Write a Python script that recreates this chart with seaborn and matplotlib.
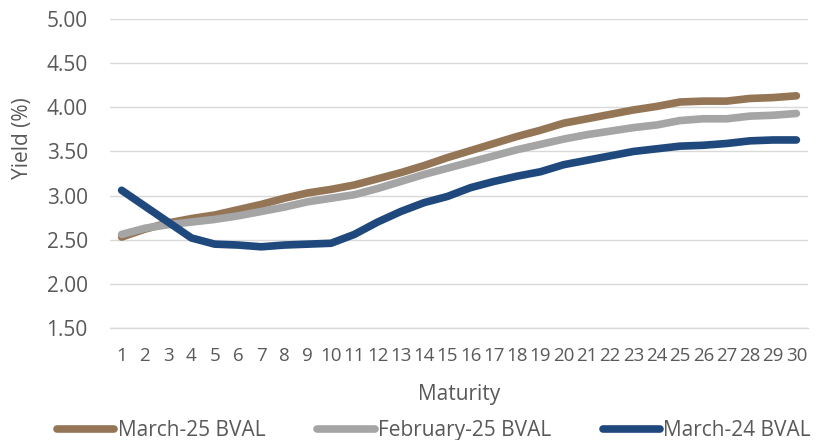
import numpy as np
import pandas as pd
import matplotlib
matplotlib.use("Agg")
import matplotlib.pyplot as plt
import seaborn as sns

# Maturity buckets (years) and yields (%)
maturity = list(range(1, 31))

march_25 = [2.53, 2.62, 2.69, 2.74, 2.78, 2.84, 2.90, 2.97, 3.03, 3.07,
            3.12, 3.19, 3.26, 3.34, 3.43, 3.51, 3.59, 3.67, 3.74, 3.82,
            3.87, 3.92, 3.97, 4.01, 4.06, 4.07, 4.07, 4.10, 4.11, 4.13]

february_25 = [2.56, 2.63, 2.67, 2.70, 2.73, 2.77, 2.82, 2.87, 2.93, 2.97,
               3.01, 3.08, 3.16, 3.24, 3.31, 3.38, 3.45, 3.52, 3.58, 3.64,
               3.69, 3.73, 3.77, 3.80, 3.85, 3.87, 3.87, 3.90, 3.91, 3.93]

march_24 = [3.06, 2.88, 2.70, 2.52, 2.45, 2.44, 2.42, 2.44, 2.45, 2.46,
            2.56, 2.70, 2.82, 2.92, 2.99, 3.09, 3.16, 3.22, 3.27, 3.35,
            3.40, 3.45, 3.50, 3.53, 3.56, 3.57, 3.59, 3.62, 3.63, 3.63]

series_names = ["March-25 BVAL", "February-25 BVAL", "March-24 BVAL"]
colors = ["#947657", "#A5A5A5", "#1F497D"]

y_ticks = [1.50, 2.00, 2.50, 3.00, 3.50, 4.00, 4.50, 5.00]

df = pd.DataFrame({
    "Maturity": maturity * 3,
    "Yield": march_25 + february_25 + march_24,
    "Series": np.repeat(series_names, len(maturity)),
})

sns.set_style("white")
plt.rcParams["font.family"] = ["Open Sans", "DejaVu Sans"]
text_color = "#595959"

fig = plt.figure(figsize=(8.19, 4.40), dpi=100)
ax = fig.add_axes([0.1343, 0.2545, 0.8523, 0.7023])

sns.lineplot(data=df, x="Maturity", y="Yield", hue="Series",
             hue_order=series_names, palette=colors, linewidth=5.5,
             solid_capstyle="round", ax=ax, legend=True)

ax.set_xlim(0.5, 30.5)
ax.set_ylim(1.5, 5.0)
ax.set_yticks(y_ticks)
ax.set_yticklabels([f"{v:.2f}" for v in y_ticks])
ax.set_xticks(maturity)
ax.set_xticklabels([str(m) for m in maturity])
ax.set_xticks(np.arange(0.5, 31, 1), minor=True)

ax.grid(axis="y", color="#D9D9D9", linewidth=1)
ax.set_axisbelow(True)
for side in ["left", "right", "top"]:
    ax.spines[side].set_visible(False)
ax.spines["bottom"].set_color("#D9D9D9")
ax.spines["bottom"].set_linewidth(1)

ax.tick_params(axis="x", which="major", length=0, pad=14,
               labelsize=13.5, labelcolor=text_color)
ax.tick_params(axis="x", which="minor", length=6, color="#D9D9D9", width=1)
ax.tick_params(axis="y", length=0, pad=16, labelsize=15, labelcolor=text_color)

ax.set_xlabel("Maturity", fontsize=15, color=text_color, labelpad=13)
ax.set_ylabel("Yield (%)", fontsize=15, color=text_color)
ax.yaxis.set_label_coords(-0.110, 0.615)

handles, labels = ax.get_legend_handles_labels()
ax.legend(handles, labels, loc="center", bbox_to_anchor=(0.530, 0.022),
          bbox_transform=fig.transFigure, ncol=3, frameon=False,
          fontsize=15, handlelength=2.75, handletextpad=0.15,
          columnspacing=2.5, labelcolor=text_color)

fig.savefig("out.png", dpi=100, facecolor="white")
plt.close(fig)
